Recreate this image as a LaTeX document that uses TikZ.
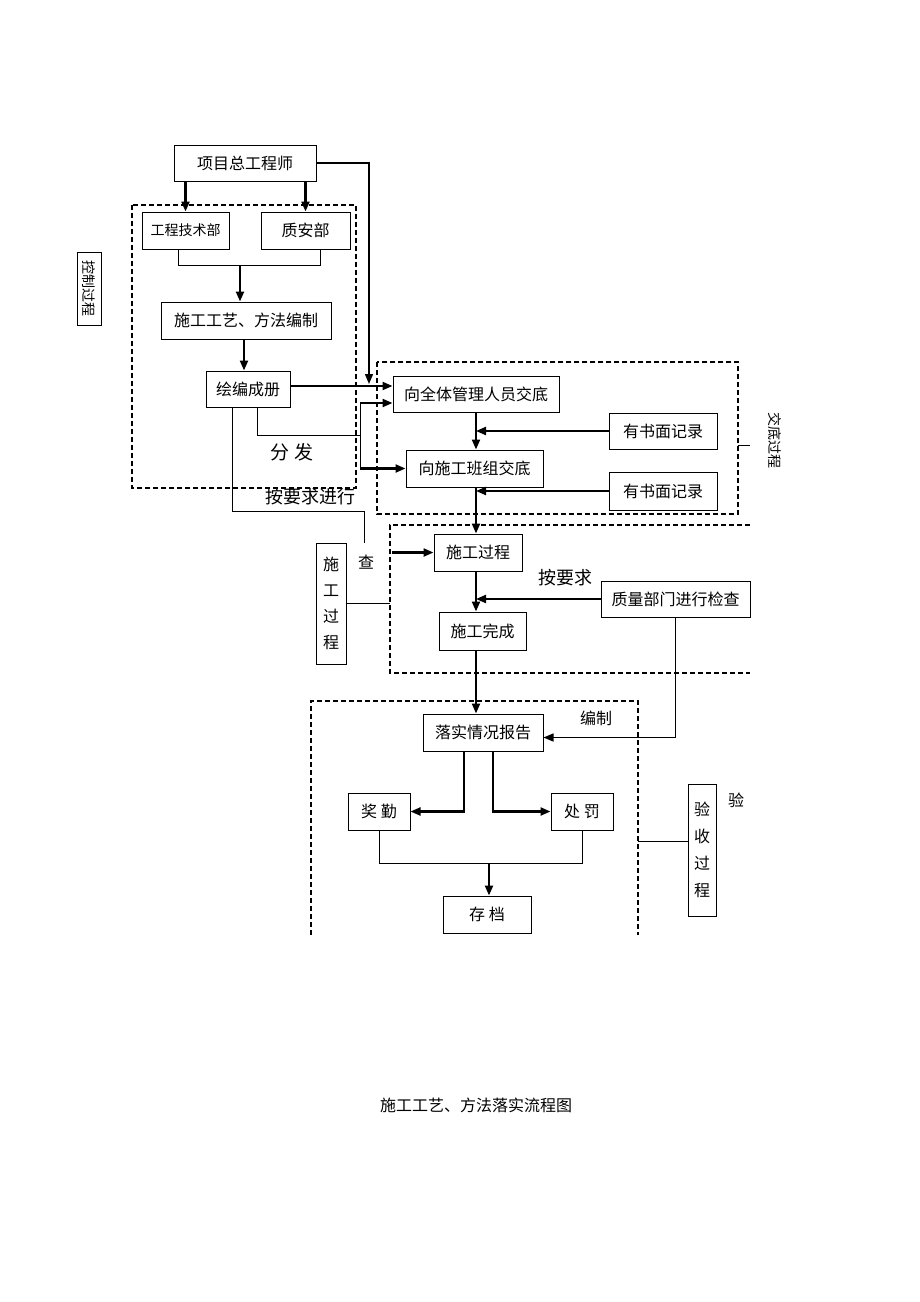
\documentclass[tikz,border=0pt]{standalone}
\usepackage{fontspec}
\setmainfont{Noto Sans CJK SC}
\usetikzlibrary{arrows.meta}
\begin{document}
\begin{tikzpicture}[x=1pt,y=-1pt,
  box/.style={draw, line width=1pt, inner sep=0pt, font=\fontsize{16}{18}\selectfont},
  sbox/.style={box, font=\fontsize{14}{18}\selectfont},
  arr/.style={line width=2.2pt, -{Triangle[length=10pt,width=8pt]}},
  ln/.style={line width=0.9pt},
  dbox/.style={line width=1.4pt, dash pattern=on 5pt off 3pt},
  lbl/.style={font=\fontsize{16}{18}\selectfont, inner sep=0pt}]
\useasboundingbox[fill=white] (0,0) rectangle (920,1302);

% dashed group frames
\draw[dbox] (132,205) rectangle (356,488);
\draw[dbox] (377,362) rectangle (738,514);
\draw[dbox, line width=1.1pt] (750,525) -- (390,525) -- (390,673) -- (750,673);
\draw[dbox] (311,935) -- (311,701) -- (638,701) -- (638,935);

% nodes
\node[box, minimum width=142pt, minimum height=36pt] (pm) at (245,163) {项目总工程师};
\node[sbox, minimum width=87pt, minimum height=37pt] (tech) at (185.5,230.5) {工程技术部};
\node[box, minimum width=89pt, minimum height=37pt] (qa) at (305.5,230.5) {质安部};
\node[box, minimum width=170pt, minimum height=37pt] (craft) at (246,320.5) {施工工艺、方法编制};
\node[box, minimum width=84pt, minimum height=36pt] (book) at (248,389) {绘编成册};
\node[box, minimum width=166pt, minimum height=36pt] (all) at (476,394) {向全体管理人员交底};
\node[box, minimum width=137pt, minimum height=37pt] (tb) at (474.5,468.5) {向施工班组交底};
\node[box, minimum width=108pt, minimum height=36pt] (rec1) at (663,431) {有书面记录};
\node[box, minimum width=108pt, minimum height=38pt] (rec2) at (663,491) {有书面记录};
\node[box, minimum width=88pt, minimum height=37pt] (proc) at (478,552.5) {施工过程};
\node[box, minimum width=149pt, minimum height=36pt] (qc) at (675.5,599) {质量部门进行检查};
\node[box, minimum width=87pt, minimum height=38pt] (done) at (482.5,631) {施工完成};
\node[box, minimum width=120pt, minimum height=37pt] (report) at (483,732.5) {落实情况报告};
\node[box, minimum width=62pt, minimum height=37pt] (jq) at (379,811.5) {奖\ 勤};
\node[box, minimum width=62pt, minimum height=37pt] (cf) at (582,811.5) {处\ 罚};
\node[box, minimum width=88pt, minimum height=37pt] (cd) at (487,914.5) {存\ 档};
\node[box, minimum width=30pt, minimum height=121pt, align=center, font=\fontsize{16}{26}\selectfont] (sgv) at (331,603.5) {施\\工\\过\\程};
\node[box, minimum width=28pt, minimum height=132pt, align=center, font=\fontsize{16}{27}\selectfont] (ysv) at (702,850) {验\\收\\过\\程};
\node[draw, line width=0.8pt, inner sep=0pt, rotate=-90, minimum width=73pt, minimum height=24pt, font=\fontsize{14}{15}\selectfont] (ctl) at (89,288.5) {控制过程};
\node[inner sep=0pt, rotate=-90, font=\fontsize{14}{15}\selectfont] (jdl) at (775,440) {交底过程};

% labels
\node[lbl, font=\fontsize{19}{20}\selectfont] (fenfa) at (292,452) {分\ 发};
\node[lbl, font=\fontsize{18}{20}\selectfont] (ayqjx) at (310,497) {按要求进行};
\node[lbl] (cha) at (366,562) {查};
\node[lbl, font=\fontsize{18}{20}\selectfont] (ayq) at (565,578) {按要求};
\node[lbl] (bz) at (596,718) {编制};
\node[lbl] (yan) at (736,800) {验};
\node[lbl] (cap) at (476,1105) {施工工艺、方法落实流程图};

% connectors
\draw[arr] (pm.south -| tech.north) -- (tech.north);
\draw[arr] (pm.south -| qa.north) -- (qa.north);
\coordinate (j1) at (240,265);
\draw[ln] ([xshift=-7pt]tech.south) |- ([xshift=14.5pt]qa.south |- j1) -- ([xshift=14.5pt]qa.south);
\draw[arr] (j1) -- (j1 |- craft.north);
\draw[arr] ([xshift=-4pt]book.north |- craft.south) -- ([xshift=-4pt]book.north);

\coordinate (a1) at ([yshift=8pt]all.west);
\coordinate (a2) at ([yshift=-9pt]all.west);
\draw[arr] (book.east |- a1) -- (a1);
\coordinate (pmj) at (369,384);
\draw[ln, line width=1.4pt, -{Triangle[length=10pt,width=8pt]}] (pm.east) -| (pmj);

\coordinate (d1) at (360,435);
\draw[ln] ([xshift=9pt]book.south) |- (d1);
\draw[ln] (d1 |- a2) -- (d1 |- tb.west);
\draw[arr] (d1 |- a2) -- (a2);
\draw[arr] (d1 |- tb.west) -- (tb.west);

\coordinate (c0) at (364,511);
\coordinate (c1) at (364,543);
\draw[ln] ([xshift=-16pt]book.south) |- (c0) -- (c1);

\draw[arr] (all.south) -- (all.south |- tb.north);
\draw[arr] (rec1.west) -- (rec1.west -| all.south);
\draw[arr] (rec2.west) -- (rec2.west -| all.south);
\draw[arr] (tb.south -| all.south) -- (all.south |- proc.north);
\coordinate (p0) at (392,552.5);
\draw[arr] (p0) -- (proc.west);
\draw[arr] (proc.south -| all.south) -- (all.south |- done.north);
\draw[arr] (qc.west) -- (qc.west -| all.south);
\draw[arr] (done.south -| all.south) -- (all.south |- report.north);
\draw[ln, line width=1.4pt, -{Triangle[length=10pt,width=8pt]}] (qc.south) |- ([yshift=-5pt]report.east);

\draw[arr] ([xshift=-19pt]report.south) |- (jq.east);
\draw[arr] ([xshift=10pt]report.south) |- (cf.west);
\coordinate (j2) at (489,863);
\draw[ln] (jq.south) |- (j2) -| (cf.south);
\draw[arr] (j2) -- (j2 |- cd.north);

\coordinate (sgl) at (390,603.5);
\draw[ln] (sgv.east) -- (sgl);
\coordinate (ysr) at (638,841);
\draw[ln] (ysr) -- (ysr -| ysv.west);
\coordinate (jdr) at (738,445);
\draw[ln] (jdr) -- ++(12,0);
\end{tikzpicture}
\end{document}
